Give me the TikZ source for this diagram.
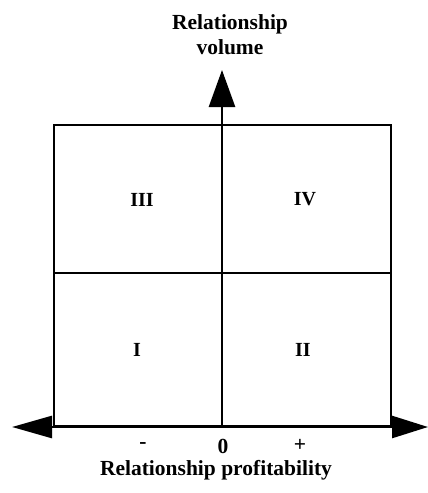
\documentclass[tikz,border=0pt]{standalone}
\usepackage{fontspec}
\setmainfont{Liberation Serif}
\usetikzlibrary{arrows.meta}

\begin{document}
\begin{tikzpicture}[x=1pt, y=-1pt, line width=2.6pt,
  lbl/.style={font=\bfseries\fontsize{21.5}{26}\selectfont, align=center},
  quad/.style={font=\bfseries\fontsize{20}{22}\selectfont}]
  \useasboundingbox (0,0) rectangle (428,493);
  % corners of the grid, y grows downward
  \coordinate (A) at (54,426);
  \coordinate (B) at (391,426);
  \coordinate (C) at (391,125);
  \coordinate (D) at (54,125);
  \coordinate (ML) at (54,273);
  \coordinate (MR) at (391,273);
  \coordinate (O) at (222,426);
  \coordinate (Top) at (222,70);
  \coordinate (Le) at (12,427);
  \coordinate (Ri) at (428,427);
  \draw (A)--(B)--(C)--(D)--cycle;
  \draw (ML)--(MR);
  % axes
  \draw[-{Triangle[length=37pt,width=26pt]}] (O)--(Top);
  \draw[{Triangle[length=40pt,width=22pt]}-{Triangle[length=36pt,width=22pt]}] (Le)--(Ri);
  % quadrant labels
  \node[quad] (q3) at (142,200) {III};
  \node[quad] (q4) at (305,199) {IV};
  \node[quad] (q1) at (137,350) {I};
  \node[quad] (q2) at (303,350) {II};
  % axis marks and titles
  \node[lbl] (minus) at (143,446) {-};
  \node[lbl] (zero) at (223,446) {0};
  \node[lbl] (plus) at (300,445) {+};
  \node[lbl] (xlab) at (216,470) {Relationship profitability};
  \node[lbl] (ylab) at (230,35) {Relationship\\[-1pt]volume};
\end{tikzpicture}
\end{document}
